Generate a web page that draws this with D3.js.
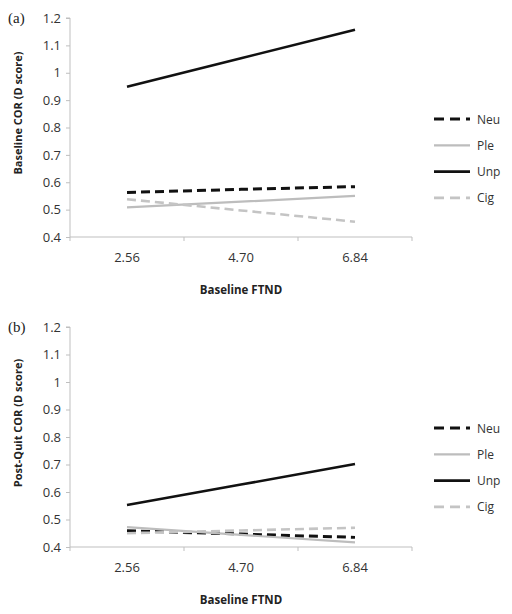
<!DOCTYPE html>
<html><head><meta charset="utf-8">
<script src="https://cdn.jsdelivr.net/npm/d3@7"></script>
<style>body{margin:0;background:#fff}svg{display:block}</style>
</head><body>
<svg id="c" width="512" height="614"></svg>
<script>
const categories = ["2.56", "4.70", "6.84"];
const yTicks = [0.4, 0.5, 0.6, 0.7, 0.8, 0.9, 1, 1.1, 1.2];
const seriesNames = ["Neu", "Ple", "Unp", "Cig"];
const baselineNeu = [0.563, 0.574, 0.584];
const baselinePle = [0.508, 0.529, 0.550];
const baselineUnp = [0.949, 1.053, 1.157];
const baselineCig = [0.538, 0.497, 0.456];
const postQuitNeu = [0.459, 0.447, 0.435];
const postQuitPle = [0.472, 0.444, 0.417];
const postQuitUnp = [0.553, 0.627, 0.702];
const postQuitCig = [0.450, 0.460, 0.470];

const styles = {
  Neu: {color: "#111", width: 3, dash: "9,5"},
  Ple: {color: "#bdbdbd", width: 2.2, dash: null},
  Unp: {color: "#111", width: 2.6, dash: null},
  Cig: {color: "#c4c4c4", width: 2.6, dash: "9,5"}
};

const panels = [
  {label: "(a)", ytitle: "Baseline COR (D score)", top: 18, bottom: 237, titleY: 113,
   data: {Neu: baselineNeu, Ple: baselinePle, Unp: baselineUnp, Cig: baselineCig}, legendY: 119},
  {label: "(b)", ytitle: "Post-Quit COR (D score)", top: 327, bottom: 547, titleY: 423,
   data: {Neu: postQuitNeu, Ple: postQuitPle, Unp: postQuitUnp, Cig: postQuitCig}, legendY: 428}
];

const svg = d3.select("#c");
const left = 70, right = 412;
const font = "'Open Sans', 'Noto Sans', sans-serif";

panels.forEach(p => {
  const g = svg.append("g");
  const x = d3.scaleBand().domain(categories).range([left, right]);
  const y = d3.scaleLinear().domain([0.4, 1.2]).range([p.bottom, p.top]);

  // y axis
  const ya = g.append("g").attr("transform", `translate(${left},0)`)
    .call(d3.axisLeft(y).tickValues(yTicks).tickSize(4).tickPadding(5)
      .tickFormat(d => d === 1 ? "1" : d3.format(".1f")(d)));
  ya.select(".domain").attr("stroke", "#bfbfbf").attr("d", `M-4,${p.top}H0V${p.bottom}`);
  ya.selectAll(".tick line").attr("stroke", "#bfbfbf");
  ya.selectAll(".tick text").attr("fill", "#333").style("font", `13px ${font}`);

  // x axis
  const xa = g.append("g").attr("transform", `translate(0,${p.bottom})`)
    .call(d3.axisBottom(x).tickSize(0).tickPadding(16));
  xa.select(".domain").attr("stroke", "#bfbfbf").attr("d", `M${left},0H${right}`);
  xa.selectAll(".tick text").attr("fill", "#333").style("font", `13px ${font}`);
  const bounds = [left].concat(categories.map(c => x(c) + x.bandwidth()));
  xa.selectAll(".bt").data(bounds).join("line").attr("class", "bt")
    .attr("x1", d => d).attr("x2", d => d).attr("y1", 0).attr("y2", 4)
    .attr("stroke", "#bfbfbf");

  // axis titles
  g.append("text").attr("x", (left + right) / 2).attr("y", p.bottom + 57)
    .attr("text-anchor", "middle").style("font", `bold 11.5px ${font}`).attr("fill", "#222")
    .text("Baseline FTND");
  g.append("text").attr("transform", `translate(22,${p.titleY}) rotate(-90)`)
    .attr("text-anchor", "middle").style("font", `bold 11px ${font}`).attr("fill", "#222")
    .text(p.ytitle);
  g.append("text").attr("x", 8).attr("y", p.top + 5)
    .style("font", "15px 'Liberation Serif', serif").attr("fill", "#222").text(p.label);

  // lines
  const line = d3.line().x((d, i) => x(categories[i]) + x.bandwidth() / 2).y(d => y(d));
  seriesNames.forEach(s => {
    const st = styles[s];
    g.append("path").datum(p.data[s]).attr("d", line).attr("fill", "none")
      .attr("stroke", st.color).attr("stroke-width", st.width)
      .attr("stroke-dasharray", st.dash);
  });

  // legend
  seriesNames.forEach((s, i) => {
    const st = styles[s];
    const ly = p.legendY + i * 26.3;
    g.append("line").attr("x1", 434).attr("x2", 470).attr("y1", ly).attr("y2", ly)
      .attr("stroke", st.color).attr("stroke-width", st.width)
      .attr("stroke-dasharray", st.dash ? "10,6" : null);
    g.append("text").attr("x", 477).attr("y", ly + 4.5)
      .style("font", `12px ${font}`).attr("fill", "#333").text(s);
  });
});
</script>
</body></html>
